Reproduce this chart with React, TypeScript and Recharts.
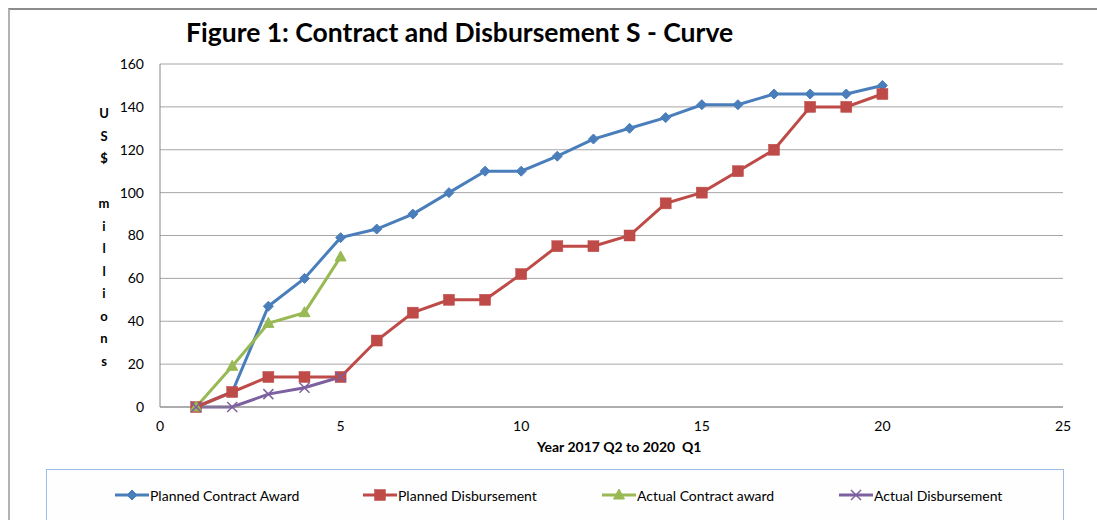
import { LineChart, Line, XAxis, YAxis, CartesianGrid } from 'recharts'

const quarters = [1, 2, 3, 4, 5, 6, 7, 8, 9, 10, 11, 12, 13, 14, 15, 16, 17, 18, 19, 20]
const plannedAward = [0, 7, 47, 60, 79, 83, 90, 100, 110, 110, 117, 125, 130, 135, 141, 141, 146, 146, 146, 150]
const plannedDisb = [0, 7, 14, 14, 14, 31, 44, 50, 50, 62, 75, 75, 80, 95, 100, 110, 120, 140, 140, 146]
const actualAward = [0, 19, 39, 44, 70]
const actualDisb = [0, 0, 6, 9, 14]

const xTicks = [0, 5, 10, 15, 20, 25]
const yTicks = [0, 20, 40, 60, 80, 100, 120, 140, 160]
const yLetters = ['U', 'S', '$', '', 'm', 'i', 'l', 'l', 'i', 'o', 'n', 's']

const BLUE = '#4a7ebb'
const RED = '#be4b48'
const GREEN = '#98b954'
const PURPLE = '#7d60a0'
const FONT = 'Lato, "Open Sans", sans-serif'

const rows = quarters.map((q, i) => ({
  q,
  plannedAward: plannedAward[i],
  plannedDisb: plannedDisb[i],
  actualAward: actualAward[i],
  actualDisb: actualDisb[i],
}))

// marker shapes, roughly like Excel 2007 defaults
const Diamond = (p: any) => {
  const { cx, cy } = p
  if (cx == null || cy == null) return null
  const r = 5
  return <polygon key={p.key} points={`${cx},${cy - r} ${cx + r},${cy} ${cx},${cy + r} ${cx - r},${cy}`} fill={BLUE} stroke={BLUE} />
}
const Square = (p: any) => {
  const { cx, cy } = p
  if (cx == null || cy == null) return null
  return <rect key={p.key} x={cx - 5.5} y={cy - 5.5} width={11} height={11} fill={RED} stroke={RED} strokeWidth={0.5} />
}
const Triangle = (p: any) => {
  const { cx, cy } = p
  if (cx == null || cy == null) return null
  return <polygon key={p.key} points={`${cx},${cy - 6} ${cx + 5.5},${cy + 4} ${cx - 5.5},${cy + 4}`} fill={GREEN} stroke={GREEN} />
}
const Cross = (p: any) => {
  const { cx, cy } = p
  if (cx == null || cy == null) return null
  const r = 5
  return (
    <g key={p.key} stroke={PURPLE} strokeWidth={1.5}>
      <line x1={cx - r} y1={cy - r} x2={cx + r} y2={cy + r} />
      <line x1={cx - r} y1={cy + r} x2={cx + r} y2={cy - r} />
    </g>
  )
}

const legendItems = [
  { name: 'Planned Contract Award', color: BLUE, Shape: Diamond, x: 115 },
  { name: 'Planned Disbursement', color: RED, Shape: Square, x: 363 },
  { name: 'Actual Contract award', color: GREEN, Shape: Triangle, x: 602 },
  { name: 'Actual Disbursement', color: PURPLE, Shape: Cross, x: 839 },
]

export default function App() {
  return (
    <div style={{ position: 'absolute', left: 0, top: 0, width: 1097, height: 520, background: '#fff', overflow: 'hidden', fontFamily: FONT }}>
      <div style={{ position: 'absolute', left: 8, top: 8, width: 1200, height: 600, borderLeft: '2px solid #b3b3b3', borderTop: '2px solid #8c8c8c' }} />
      <div style={{ position: 'absolute', left: 186, top: 16, fontSize: 26.5, fontWeight: 700, color: '#000', whiteSpace: 'nowrap' }}>
        Figure 1: Contract and Disbursement S - Curve
      </div>
      <LineChart width={1097} height={520} data={rows} margin={{ top: 64, right: 34, bottom: 83, left: 100 }} style={{ position: 'absolute', left: 0, top: 0 }}>
        <CartesianGrid vertical={false} stroke="#a6a6a6" strokeWidth={1} />
        <XAxis
          dataKey="q"
          type="number"
          domain={[0, 25]}
          ticks={xTicks}
          height={30}
          axisLine={{ stroke: '#868686' }}
          tickLine={false}
          tickMargin={8}
          tick={{ fill: '#000', fontSize: 14, fontFamily: FONT }}
        />
        <YAxis
          type="number"
          domain={[0, 160]}
          ticks={yTicks}
          width={60}
          axisLine={{ stroke: '#868686' }}
          tickLine={false}
          tickMargin={10}
          tick={{ fill: '#000', fontSize: 14, fontFamily: FONT }}
        />
        <Line dataKey="plannedAward" stroke={BLUE} strokeWidth={3} dot={Diamond} isAnimationActive={false} />
        <Line dataKey="plannedDisb" stroke={RED} strokeWidth={3} dot={Square} isAnimationActive={false} />
        <Line dataKey="actualAward" stroke={GREEN} strokeWidth={3} dot={Triangle} isAnimationActive={false} />
        <Line dataKey="actualDisb" stroke={PURPLE} strokeWidth={3} dot={Cross} isAnimationActive={false} />
      </LineChart>
      <svg style={{ position: 'absolute', left: 0, top: 0 }} width={1097} height={520}>
        <text x={104} y={118} textAnchor="middle" fontSize={13} fontWeight={700} fontFamily={FONT}>
          {yLetters.map((l, i) => (
            <tspan key={i} x={104} y={118 + i * 22.5}>{l}</tspan>
          ))}
        </text>
      </svg>
      <div style={{ position: 'absolute', left: 537, top: 438, fontSize: 14, fontWeight: 700, whiteSpace: 'pre' }}>Year 2017 Q2 to 2020  Q1</div>
      <div style={{ position: 'absolute', left: 46, top: 469, width: 1016, height: 80, border: '1px solid #9dbce3', background: '#fefefe' }} />
      {legendItems.map((it) => (
        <div key={it.name} style={{ position: 'absolute', left: it.x, top: 486, height: 18, display: 'flex', alignItems: 'center', fontSize: 14 }}>
          <svg width={34} height={14}>
            <line x1={0} y1={7} x2={34} y2={7} stroke={it.color} strokeWidth={3} />
            <it.Shape cx={17} cy={7} key="m" />
          </svg>
          <span style={{ marginLeft: 1 }}>{it.name}</span>
        </div>
      ))}
    </div>
  )
}
